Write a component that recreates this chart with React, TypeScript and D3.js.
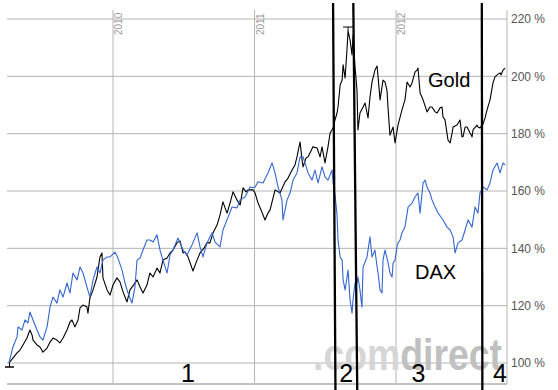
import React from "react";
import * as d3 from "d3";

// Time values are decimal years; values are percent of start (indexed to 100 %)
const goldDates = [2009.265,2009.293,2009.322,2009.343,2009.364,2009.392,2009.413,2009.428,2009.435,2009.463,2009.484,2009.505,2009.534,2009.555,2009.576,2009.604,2009.625,2009.647,2009.675,2009.696,2009.710,2009.731,2009.753,2009.767,2009.788,2009.816,2009.823,2009.837,2009.859,2009.887,2009.894,2009.908,2009.922,2009.929,2009.958,2009.979,2010.000,2010.028,2010.049,2010.071,2010.099,2010.120,2010.141,2010.170,2010.191,2010.212,2010.240,2010.261,2010.283,2010.311,2010.332,2010.353,2010.382,2010.403,2010.424,2010.452,2010.473,2010.495,2010.509,2010.530,2010.565,2010.594,2010.615,2010.643,2010.664,2010.685,2010.707,2010.735,2010.756,2010.777,2010.792,2010.806,2010.827,2010.848,2010.876,2010.898,2010.919,2010.940,2010.954,2010.989,2011.004,2011.025,2011.046,2011.074,2011.095,2011.110,2011.131,2011.145,2011.180,2011.216,2011.237,2011.265,2011.286,2011.300,2011.322,2011.336,2011.343,2011.364,2011.378,2011.413,2011.442,2011.463,2011.477,2011.498,2011.519,2011.534,2011.555,2011.569,2011.583,2011.590,2011.605,2011.619,2011.626,2011.640,2011.654,2011.661,2011.675,2011.689,2011.696,2011.710,2011.724,2011.731,2011.745,2011.767,2011.781,2011.802,2011.816,2011.830,2011.851,2011.866,2011.873,2011.887,2011.908,2011.922,2011.936,2011.943,2011.957,2011.979,2011.993,2012.014,2012.042,2012.063,2012.078,2012.099,2012.113,2012.134,2012.148,2012.155,2012.170,2012.191,2012.219,2012.240,2012.254,2012.276,2012.290,2012.311,2012.325,2012.332,2012.346,2012.360,2012.367,2012.382,2012.396,2012.403,2012.431,2012.452,2012.466,2012.473,2012.488,2012.502,2012.523,2012.537,2012.544,2012.572,2012.579,2012.593,2012.615,2012.629,2012.643,2012.664,2012.685,2012.699,2012.714,2012.735,2012.742,2012.756,2012.770];
const goldValues = [100.0,101.7,103.5,104.5,106.3,108.7,111.5,109.8,108.0,106.3,105.6,103.8,105.2,107.3,108.7,108.0,107.0,108.7,111.5,114.3,115.0,112.6,115.0,119.2,120.2,119.5,117.4,122.7,125.5,130.0,132.4,137.0,138.4,129.7,125.5,123.7,127.2,129.7,128.3,124.8,121.3,125.5,126.9,129.0,126.5,124.4,127.2,131.4,130.0,133.1,131.4,135.9,136.6,138.4,139.4,141.9,142.6,138.4,138.7,137.0,132.1,135.9,138.4,140.1,141.9,141.9,145.4,148.1,151.6,156.2,154.1,152.3,155.8,159.7,156.9,155.1,161.1,159.7,160.4,160.4,159.3,155.8,153.4,149.9,152.3,153.4,157.6,160.4,159.3,163.2,164.5,167.3,169.1,171.9,177.1,170.8,168.4,171.5,171.9,175.4,175.0,171.9,175.4,169.8,175.4,180.2,182.0,184.8,187.2,189.3,197.0,198.7,204.0,199.4,209.9,215.8,212.7,207.5,214.4,203.3,195.2,181.3,187.2,189.3,190.7,185.5,192.8,198.0,202.2,203.6,199.8,191.8,198.7,198.0,195.2,189.3,179.5,182.3,176.8,183.0,188.3,191.8,198.0,196.3,197.7,201.5,202.2,202.9,194.2,191.8,187.6,189.3,189.3,187.6,187.2,189.0,189.3,185.8,184.8,180.2,177.8,176.8,180.2,182.3,183.0,184.8,178.9,178.9,182.3,182.3,180.2,178.9,181.3,183.0,182.3,182.0,183.4,185.5,188.3,191.8,197.7,199.8,200.5,201.2,200.5,202.2,202.9];

const daxDates = [2009.265,2009.293,2009.322,2009.329,2009.357,2009.378,2009.399,2009.413,2009.435,2009.463,2009.484,2009.505,2009.534,2009.555,2009.576,2009.604,2009.625,2009.647,2009.675,2009.696,2009.717,2009.746,2009.767,2009.788,2009.816,2009.837,2009.859,2009.887,2009.908,2009.929,2009.958,2009.979,2010.014,2010.035,2010.064,2010.085,2010.106,2010.134,2010.155,2010.170,2010.191,2010.212,2010.240,2010.261,2010.283,2010.311,2010.332,2010.353,2010.382,2010.403,2010.424,2010.459,2010.495,2010.523,2010.558,2010.594,2010.615,2010.636,2010.664,2010.700,2010.721,2010.756,2010.777,2010.813,2010.841,2010.876,2010.898,2010.933,2010.969,2010.989,2011.004,2011.025,2011.060,2011.095,2011.124,2011.145,2011.166,2011.194,2011.201,2011.230,2011.251,2011.272,2011.300,2011.322,2011.343,2011.357,2011.378,2011.406,2011.427,2011.449,2011.477,2011.498,2011.519,2011.548,2011.555,2011.569,2011.583,2011.590,2011.605,2011.619,2011.626,2011.640,2011.654,2011.661,2011.675,2011.689,2011.696,2011.710,2011.724,2011.731,2011.745,2011.759,2011.767,2011.795,2011.802,2011.816,2011.830,2011.851,2011.866,2011.873,2011.887,2011.901,2011.908,2011.922,2011.943,2011.957,2011.972,2011.979,2011.993,2012.007,2012.014,2012.028,2012.042,2012.063,2012.085,2012.113,2012.134,2012.155,2012.170,2012.191,2012.205,2012.219,2012.240,2012.254,2012.276,2012.297,2012.332,2012.360,2012.382,2012.403,2012.417,2012.438,2012.466,2012.488,2012.509,2012.537,2012.558,2012.579,2012.593,2012.615,2012.643,2012.664,2012.685,2012.714,2012.735,2012.756,2012.770];
const daxValues = [100.0,105.6,109.1,112.6,111.5,115.0,114.0,117.8,115.0,111.5,109.1,108.0,112.6,119.5,123.0,120.9,125.5,123.0,127.9,124.4,131.4,129.0,133.5,131.4,126.5,123.0,129.0,133.5,131.4,135.9,137.0,137.0,138.7,136.6,132.4,127.9,124.4,120.9,126.5,135.9,136.6,139.4,142.9,142.9,142.2,144.7,139.4,135.9,131.4,137.7,139.4,143.6,139.4,137.7,141.2,145.4,140.5,137.0,141.9,145.4,142.2,140.5,146.4,150.9,154.4,154.1,156.9,157.9,161.4,161.1,161.4,163.2,162.8,166.3,169.8,166.3,161.4,156.9,149.9,156.9,159.3,163.8,166.3,171.9,171.9,169.8,166.3,163.8,167.3,162.8,168.4,164.9,163.8,167.3,162.8,158.6,151.6,142.9,137.0,135.9,129.0,125.5,130.0,132.4,122.0,117.4,122.0,127.9,127.9,130.0,125.5,119.5,133.5,137.0,139.4,144.0,137.0,139.4,133.5,131.4,125.5,124.4,135.9,139.4,135.2,131.4,130.0,134.9,135.9,140.5,141.9,142.9,145.4,147.4,154.4,155.8,157.9,159.3,152.3,162.8,163.8,161.4,159.3,156.9,154.4,152.3,149.9,147.4,146.4,144.0,138.4,141.9,142.9,146.4,149.9,147.4,154.4,152.3,159.3,161.4,160.4,162.8,167.3,169.8,166.3,169.8,169.1];

const yTicks = [100, 120, 140, 160, 180, 200, 220];
const yearTicks = [2010, 2011, 2012];

// phase boundaries (hand-drawn, slightly slanted): date at top, date at bottom
const boundaryTop = [2011.555, 2011.698, 2012.606];
const boundaryBottom = [2011.572, 2011.726, 2012.610];
const phaseLabels = ["1", "2", "3", "4"];
const phaseDates = [2010.53, 2011.647, 2012.159, 2012.735];

const seriesNames = ["Gold", "DAX"];
const seriesLabelDates = [2012.226, 2012.134];
const seriesLabelValues = [196.3, 129.3];

const W = 558, H = 390;
const FONT = "Arial, 'Liberation Sans', Helvetica, sans-serif";

export default function App() {
  const x = d3.scaleLinear().domain([2009.251, 2012.784]).range([7, 507]);
  const y = d3.scaleLinear().domain([100, 220]).range([363, 19]);
  const plotTop = 10, plotBottom = 384;

  const gold = goldDates.map((d, i) => [d, goldValues[i]] as [number, number]);
  const dax = daxDates.map((d, i) => [d, daxValues[i]] as [number, number]);
  const line = d3.line<[number, number]>().x(d => x(d[0])).y(d => y(d[1]));

  const maxIdx = d3.maxIndex(goldValues);
  const minIdx = d3.minIndex(goldValues);
  const mx = x(goldDates[maxIdx]), my = y(goldValues[maxIdx]);
  const nx = x(goldDates[minIdx]), ny = y(goldValues[minIdx]);

  return (
    <svg width={W} height={H} style={{ position: "absolute", left: 0, top: 0, background: "#fff" }} fontFamily={FONT}>
      <rect width={W} height={H} fill="#fff" />
      {/* horizontal grid */}
      {yTicks.map(t => (
        <line key={t} x1={7} x2={507} y1={y(t)} y2={y(t)} stroke="#b4b4b4" strokeWidth={1} />
      ))}
      {/* year grid */}
      {yearTicks.map(t => (
        <g key={t}>
          <line x1={x(t)} x2={x(t)} y1={plotTop} y2={plotBottom} stroke="#b4b4b4" strokeWidth={1} />
          <text transform={`translate(${x(t) + 9},${35}) rotate(-90)`} fontSize={10} fill="#9a9a9a">{t}</text>
        </g>
      ))}
      <line x1={507} x2={507} y1={plotTop} y2={plotBottom} stroke="#b4b4b4" strokeWidth={1} />
      <line x1={7} x2={507} y1={plotBottom} y2={plotBottom} stroke="#c4c4c4" strokeWidth={2} />
      {/* right labels */}
      {yTicks.map(t => (
        <text key={t} x={511} y={y(t)} dy="0.35em" fontSize={12} fill="#555">{t} %</text>
      ))}
      {/* watermark */}
      <text x={313} y={370} fontSize={44} fontWeight="bold" textLength={189} lengthAdjust="spacingAndGlyphs">
        <tspan fill="#d6d6d6">.com</tspan><tspan fill="#c0c0c0">direct</tspan>
      </text>
      {/* series */}
      <path d={line(gold) || ""} fill="none" stroke="#000" strokeWidth={1.1} strokeLinejoin="round" />
      <path d={line(dax) || ""} fill="none" stroke="#3566d0" strokeWidth={1.1} strokeLinejoin="round" />
      {/* min / max markers */}
      <line x1={mx - 5} x2={mx + 5} y1={my - 4} y2={my - 4} stroke="#000" strokeWidth={1} />
      <line x1={mx} x2={mx} y1={my - 4} y2={my} stroke="#000" strokeWidth={1} />
      <line x1={nx - 4} x2={nx + 5} y1={ny + 4} y2={ny + 4} stroke="#000" strokeWidth={1.5} />
      <line x1={nx + 0.5} x2={nx + 0.5} y1={ny} y2={ny + 4} stroke="#000" strokeWidth={1} />
      {/* series labels */}
      {seriesNames.map((n, i) => (
        <text key={n} x={x(seriesLabelDates[i])} y={y(seriesLabelValues[i])} fontSize={20} fill="#000">{n}</text>
      ))}
      {/* phase boundaries */}
      {boundaryTop.map((t, i) => (
        <line key={i} x1={x(t)} x2={x(boundaryBottom[i])} y1={3} y2={392} stroke="#000" strokeWidth={2.3} />
      ))}
      {phaseLabels.map((l, i) => (
        <text key={l} x={x(phaseDates[i])} y={382} textAnchor="middle" fontSize={25} fill="#000">{l}</text>
      ))}
    </svg>
  );
}
